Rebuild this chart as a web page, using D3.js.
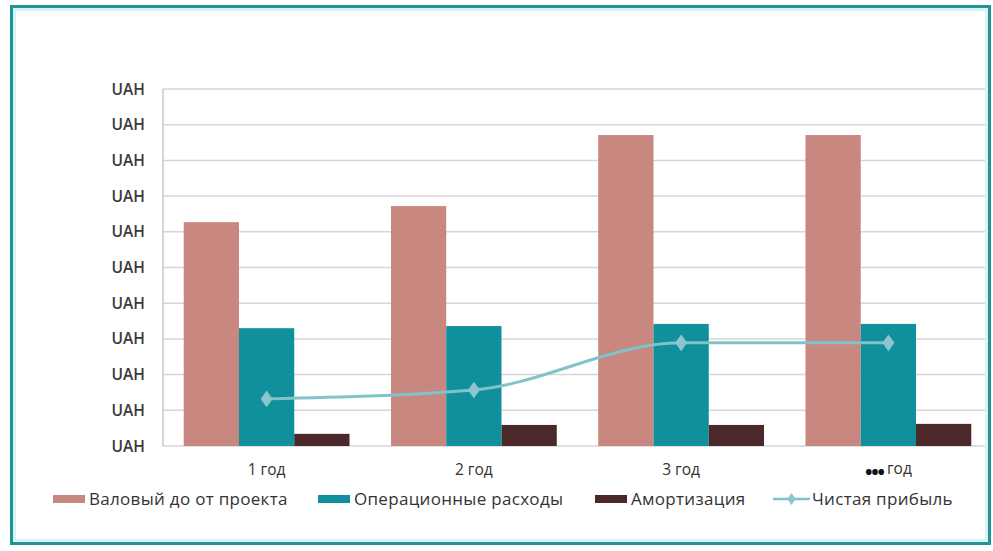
<!DOCTYPE html>
<html><head><meta charset="utf-8">
<script src="https://cdn.jsdelivr.net/npm/d3@7"></script>
<style>
html,body{margin:0;padding:0;background:#fff;}
svg{display:block;}
text{font-family:"Open Sans",sans-serif;fill:#333;}
</style></head>
<body>
<svg id="c" width="993" height="551"></svg>
<script>
const categories = ["1 год", "2 год", "3 год", "••• год"];
const seriesNames = ["Валовый до от проекта", "Операционные расходы", "Амортизация"];
const gross = [6.27, 6.72, 8.71, 8.71];
const opex = [3.3, 3.36, 3.42, 3.42];
const amort = [0.34, 0.59, 0.59, 0.62];
const netProfit = [1.32, 1.57, 2.89, 2.89];
const lineName = "Чистая прибыль";
const yTicks = [0,1,2,3,4,5,6,7,8,9,10];
const yTickLabel = "UAH";
const colors = ["#c8877f", "#10909d", "#4b2829"];
const lineColor = "#80c3cb";

const svg = d3.select("#c");
const L = 163, R = 992, T = 89, B = 446;

const x = d3.scaleBand().domain(categories).range([L, R]).paddingInner(0.2).paddingOuter(0.1);
const x1 = d3.scaleBand().domain(seriesNames).range([0, x.bandwidth()]);
const y = d3.scaleLinear().domain([0, 10]).range([B, T]);

svg.append("defs").append("clipPath").attr("id","cp").append("rect")
  .attr("x",0).attr("y",0).attr("width",989).attr("height",551);
const g = svg.append("g").attr("clip-path","url(#cp)");

// gridlines
g.append("g").selectAll("line").data(yTicks).join("line")
  .attr("x1", L).attr("x2", R).attr("y1", d => y(d)).attr("y2", d => y(d))
  .attr("stroke", "#d6d6d6").attr("stroke-width", 1.5);
g.append("line").attr("x1", L).attr("x2", L).attr("y1", T).attr("y2", B)
  .attr("stroke", "#c8c8c8").attr("stroke-width", 1.5);

// y labels
svg.append("g").selectAll("text").data(yTicks).join("text")
  .attr("x", 145).attr("y", d => y(d)).attr("dy", "0.36em")
  .attr("text-anchor", "end").attr("font-size", 15.5).attr("font-weight", 600)
  .style("fill", "#3a3a3a").text(yTickLabel);

// bars
const data = categories.map((c, i) => ({c, vals: [gross[i], opex[i], amort[i]]}));
g.append("g").selectAll("g").data(data).join("g")
  .attr("transform", d => `translate(${x(d.c)},0)`)
  .selectAll("rect").data(d => d.vals.map((v, j) => ({v, s: seriesNames[j], j})))
  .join("rect")
  .attr("x", d => x1(d.s)).attr("width", x1.bandwidth())
  .attr("y", d => y(d.v)).attr("height", d => y(0) - y(d.v))
  .attr("fill", d => colors[d.j]);

// line
const cx = c => x(c) + x1(seriesNames[1]) + x1.bandwidth() / 2;
const line = d3.line().x((d, i) => cx(categories[i])).y(d => y(d)).curve(d3.curveMonotoneX);
g.append("path").datum(netProfit).attr("d", line)
  .attr("fill", "none").attr("stroke", lineColor).attr("stroke-width", 3);
const sym = d3.symbol().type(d3.symbolDiamond).size(80);
g.append("g").selectAll("path").data(netProfit).join("path")
  .attr("transform", (d, i) => `translate(${cx(categories[i])},${y(d)}) scale(1.25,1)`)
  .attr("d", sym).attr("fill", "#8cc6cc");

// x labels
svg.append("g").selectAll("text").data(categories).join("text")
  .attr("x", d => x(d) + x.bandwidth() / 2).attr("y", 475)
  .attr("text-anchor", "middle").attr("font-size", 15.5).style("fill", "#333")
  .each(function(d) {
    const t = d3.select(this);
    if (d.startsWith("•••")) {
      t.append("tspan").attr("font-size", 20).attr("font-weight", 700).attr("dy", 4).attr("letter-spacing", -1.2).style("fill", "#111").text("•••");
      t.append("tspan").attr("dy", -5).attr("dx", 3).text(d.replace("•••", "").trim());
    } else t.text(d);
  });

// legend
const leg = svg.append("g");
const legX = [53, 318, 595];
seriesNames.forEach((s, i) => {
  leg.append("rect").attr("x", legX[i]).attr("y", 495).attr("width", 32).attr("height", 8).attr("fill", colors[i]);
  leg.append("text").attr("x", legX[i] + 36).attr("y", 499).attr("dy", "0.36em")
    .attr("font-size", 17).attr("letter-spacing", 0.3).style("fill", "#333").text(s);
});
leg.append("line").attr("x1", 773).attr("x2", 810).attr("y1", 499).attr("y2", 499)
  .attr("stroke", lineColor).attr("stroke-width", 2.5);
leg.append("path").attr("transform", "translate(791.5,499) scale(1.2,1)")
  .attr("d", d3.symbol().type(d3.symbolDiamond).size(40)).attr("fill", "#8cc6cc");
leg.append("text").attr("x", 812).attr("y", 499).attr("dy", "0.36em")
  .attr("font-size", 17).attr("letter-spacing", 0.3).style("fill", "#333").text(lineName);

// border
svg.append("rect").attr("x", 14).attr("y", 9).attr("width", 973).attr("height", 532)
  .attr("fill", "none").attr("stroke", "#d8f3f3").attr("stroke-width", 4);
svg.append("rect").attr("x", 11.5).attr("y", 6.5).attr("width", 978).attr("height", 537)
  .attr("fill", "none").attr("stroke", "#1f9595").attr("stroke-width", 3);
</script>
</body></html>
